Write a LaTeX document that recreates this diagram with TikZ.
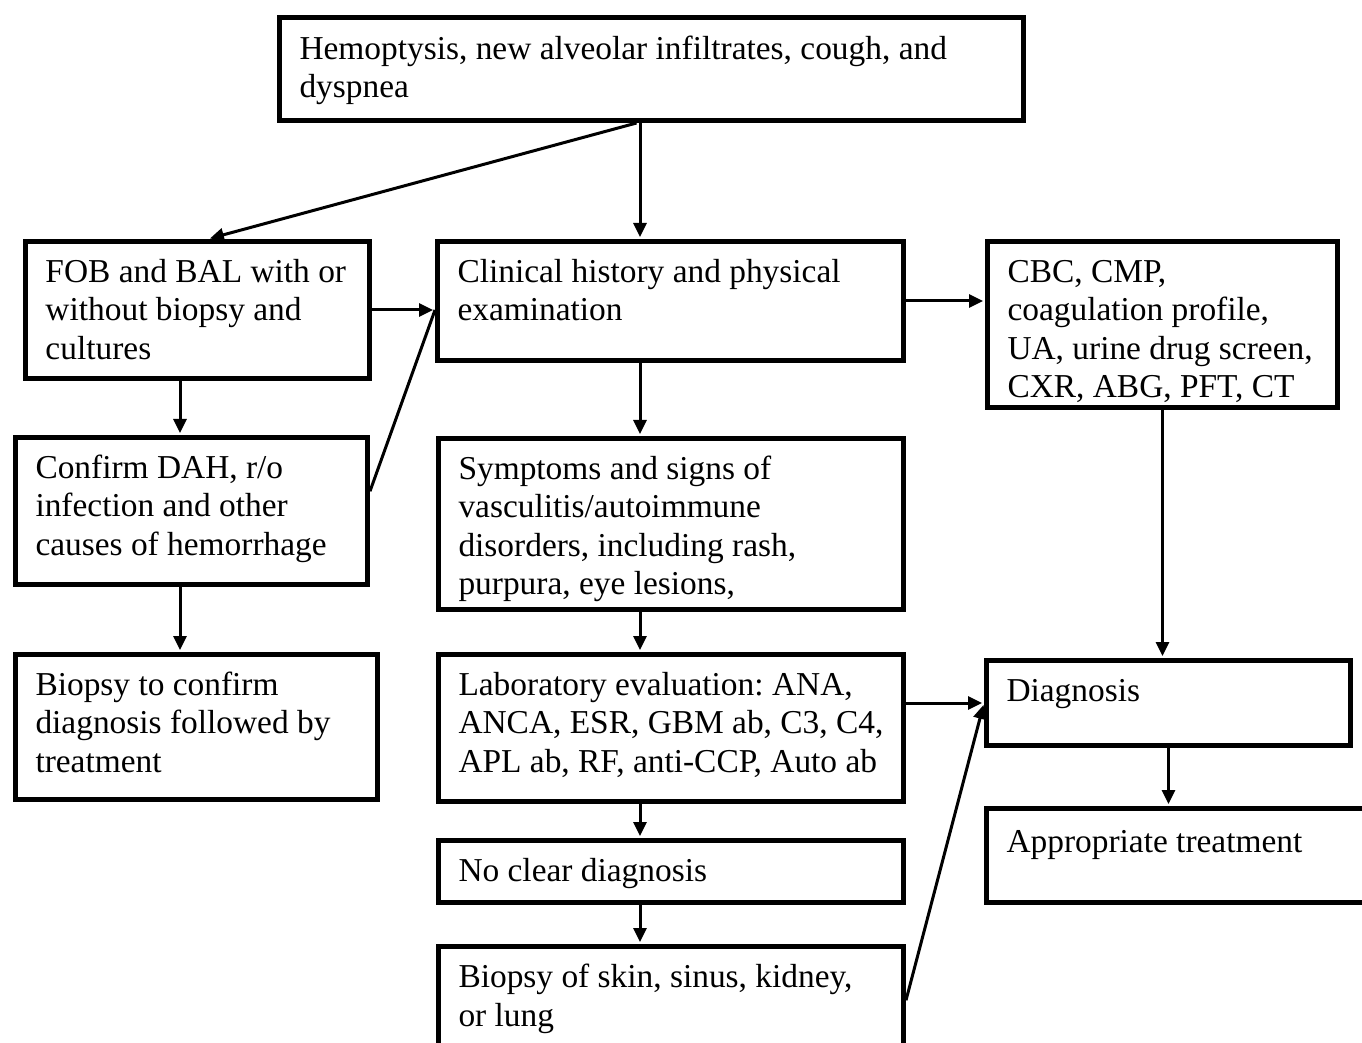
\documentclass[tikz,border=0pt]{standalone}
\usepackage{fontspec}
\setmainfont{Liberation Serif}
\usepackage{tikz}
\usetikzlibrary{positioning, arrows.meta, calc}

\tikzset{
  blk/.style={draw, line width=2.5pt, anchor=north west, align=flush left, inner xsep=10pt, inner ysep=0pt, text height=20.5pt, font=\fontsize{16.7}{19.25}\selectfont\frenchspacing},
  arr/.style={line width=1.5pt, -{Triangle[length=7pt,width=6.5pt]}, shorten >=1pt},
}

\begin{document}
\begin{tikzpicture}[x=0.5pt, y=-0.5pt]
\useasboundingbox (0,0) rectangle (1362,1043);
\clip (0,0) rectangle (1362,1043);
\node[blk, text width=352pt, text height=21pt, text depth=30.5pt] (top) at (277,15) {Hemoptysis, new alveolar infiltrates, cough, and\\dyspnea};
\node[blk, text width=152pt, text depth=48pt] (fob) at (23,239) {FOB and BAL with or\\without biopsy and\\cultures};
\node[blk, text width=213pt, text depth=39pt] (clin) at (435,239) {Clinical history and physical\\examination};
\node[blk, text width=155pt, text depth=62.5pt] (cbc) at (985,239) {CBC, CMP,\\coagulation profile,\\UA, urine drug screen,\\CXR, ABG, PFT, CT};
\node[blk, text width=156pt, text depth=53pt] (conf) at (13,435) {Confirm DAH, r/o\\infection and other\\causes of hemorrhage};
\node[blk, text width=212.5pt, text depth=65pt] (symp) at (436,436) {Symptoms and signs of\\vasculitis/autoimmune\\disorders, including rash,\\purpura, eye lesions,};
\node[blk, text width=161pt, text depth=52pt] (bconf) at (13,652) {Biopsy to confirm\\diagnosis followed by\\treatment};
\node[blk, text width=212.5pt, text depth=53pt] (lab) at (436,652) {Laboratory evaluation: ANA,\\ANCA, ESR, GBM ab, C3, C4,\\APL ab, RF, anti-CCP, Auto ab};
\node[blk, text width=162pt, text depth=22pt] (diag) at (984,658) {Diagnosis};
\node[blk, text width=180pt, text height=22pt, text depth=25pt] (appr) at (984,806) {Appropriate treatment};
\node[blk, text width=212.5pt, text depth=10.5pt] (noclr) at (436,838) {No clear diagnosis};
\node[blk, text width=212.5pt, text depth=39.5pt] (bskin) at (436,944) {Biopsy of skin, sinus, kidney,\\or lung};
\coordinate (lcol) at (180,0);
\coordinate (mcol) at (640,0);
\draw[arr] ($(top.south west)!.48!(top.south east)$) -- ($(fob.north west)!.53!(fob.north east)$);
\draw[arr] (top.south -| mcol) -- (clin.north -| mcol);
\draw[arr] (fob.east) -- (clin.west |- fob.east);
\draw[line width=1.5pt] ($(conf.north east)!.37!(conf.south east)$) -- (clin.west |- fob.east);
\draw[arr] (fob.south -| lcol) -- (conf.north -| lcol);
\draw[arr] (conf.south -| lcol) -- (bconf.north -| lcol);
\draw[arr] (clin.east) -- (cbc.west |- clin.east);
\draw[arr] (clin.south -| mcol) -- (symp.north -| mcol);
\draw[arr] (symp.south -| mcol) -- (lab.north -| mcol);
\draw[arr] (lab.south -| mcol) -- (noclr.north -| mcol);
\draw[arr] (noclr.south -| mcol) -- (bskin.north -| mcol);
\draw[arr] (cbc.south) -- (diag.north -| cbc.south);
\draw[arr] (lab.east |- diag.west) -- (diag.west);
\draw[arr] ($(bskin.north east)!.45!(bskin.south east)$) -- (diag.west);
\draw[arr] (diag.south) -- (appr.north -| diag.south);
\end{tikzpicture}
\end{document}
